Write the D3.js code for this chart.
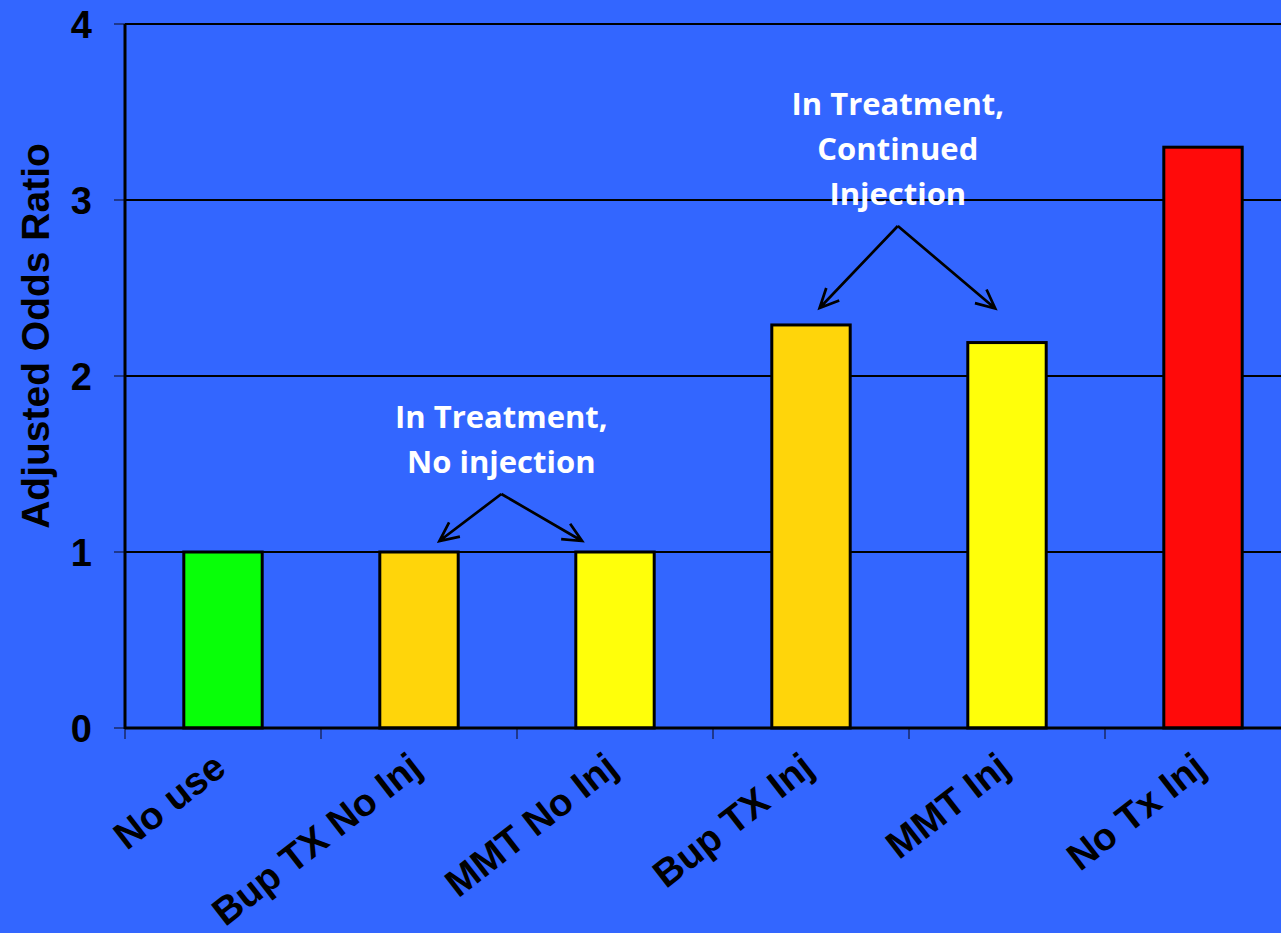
<!DOCTYPE html>
<html>
<head>
<meta charset="utf-8">
<script src="https://cdn.jsdelivr.net/npm/d3@7"></script>
<style>
  html, body { margin: 0; padding: 0; background: #3366FF; overflow: hidden; }
  svg { display: block; }
</style>
</head>
<body>
<svg id="chart" width="1281" height="933"></svg>
<script>
// ---- data ----
const categories = ["No use", "Bup TX No Inj", "MMT No Inj", "Bup TX Inj", "MMT Inj", "No Tx Inj"];
const oddsRatios = [1.0, 1.0, 1.0, 2.29, 2.19, 3.3];
const barColors = ["#08FF08", "#FFD50A", "#FFFF0A", "#FFD50A", "#FFFF0A", "#FF0A0A"];
const yTicks = [0, 1, 2, 3, 4];
const yTitle = "Adjusted Odds Ratio";
const noteNoInj = ["In Treatment,", "No injection"];
const noteInj = ["In Treatment,", "Continued", "Injection"];

(function () {
// ---- layout ----
const W = 1281, H = 933;
const mLeft = 125, mRight = 1301, mTop = 24, mBottom = 728;
const svg = d3.select("#chart");
svg.append("rect").attr("width", W).attr("height", H).attr("fill", "#3366FF");

const x = d3.scaleBand().domain(categories).range([mLeft, mRight])
  .paddingInner(0.6).paddingOuter(0.3);
const y = d3.scaleLinear().domain([0, 4]).range([mBottom, mTop]);
const bw = x.bandwidth(), step = x.step();

const axisFont = "'Liberation Sans', Arial, sans-serif";

// gridlines
svg.append("g").selectAll("line").data(yTicks.filter(d => d > 0)).join("line")
  .attr("x1", mLeft).attr("x2", W)
  .attr("y1", d => y(d)).attr("y2", d => y(d))
  .attr("stroke", "#000").attr("stroke-width", 2);

// y tick marks
svg.append("g").selectAll("line").data(yTicks).join("line")
  .attr("x1", mLeft - 11).attr("x2", mLeft)
  .attr("y1", d => y(d)).attr("y2", d => y(d))
  .attr("stroke", "#1a2a66").attr("stroke-width", 1.5);

// y tick labels
svg.append("g").selectAll("text").data(yTicks).join("text")
  .attr("x", 92).attr("y", d => y(d))
  .attr("dy", "0.36em")
  .attr("text-anchor", "end")
  .attr("font-family", axisFont).attr("font-weight", "bold").attr("font-size", 38)
  .attr("fill", "#000")
  .text(d => d);

// y title
svg.append("text")
  .attr("transform", `translate(49, ${(mTop + mBottom) / 2 - 40}) rotate(-90)`)
  .attr("text-anchor", "middle")
  .attr("font-family", axisFont).attr("font-weight", "bold").attr("font-size", 39)
  .attr("fill", "#000")
  .text(yTitle);

// x tick marks at band boundaries
const bounds = d3.range(categories.length + 1).map(i => mLeft + i * step);
svg.append("g").selectAll("line").data(bounds).join("line")
  .attr("x1", d => d).attr("x2", d => d)
  .attr("y1", mBottom).attr("y2", mBottom + 11)
  .attr("stroke", "#1a2a66").attr("stroke-width", 1.5);

// bars
svg.append("g").selectAll("rect").data(categories).join("rect")
  .attr("x", d => x(d))
  .attr("y", (d, i) => y(oddsRatios[i]))
  .attr("width", bw)
  .attr("height", (d, i) => y(0) - y(oddsRatios[i]))
  .attr("fill", (d, i) => barColors[i])
  .attr("stroke", "#000").attr("stroke-width", 3);

// zero line and y axis line
svg.append("line").attr("x1", mLeft).attr("x2", W).attr("y1", y(0)).attr("y2", y(0))
  .attr("stroke", "#000").attr("stroke-width", 3);
svg.append("line").attr("x1", mLeft).attr("x2", mLeft).attr("y1", y(4)).attr("y2", y(0) + 1)
  .attr("stroke", "#000").attr("stroke-width", 3);

// x labels rotated
svg.append("g").selectAll("text").data(categories).join("text")
  .attr("transform", d => `translate(${x(d) + bw / 2 + 5}, ${mBottom + 44}) rotate(-38)`)
  .attr("text-anchor", "end")
  .attr("font-family", axisFont).attr("font-weight", "bold").attr("font-size", 38.5)
  .attr("fill", "#000")
  .text(d => d);

// annotations
const noteFont = "'Open Sans', 'Noto Sans', sans-serif";
function note(lines, cx, firstBaseline) {
  const t = svg.append("text")
    .attr("text-anchor", "middle")
    .attr("font-family", noteFont).attr("font-weight", 700).attr("font-size", 31)
    .attr("fill", "#fff");
  lines.forEach((l, i) => t.append("tspan").attr("x", cx).attr("y", firstBaseline + i * 45).text(l));
}
function arrow(x1, y1, x2, y2) {
  const ang = Math.atan2(y2 - y1, x2 - x1);
  const len = 21, spread = 0.44;
  const p = d3.path();
  p.moveTo(x1, y1); p.lineTo(x2, y2);
  p.moveTo(x2 - len * Math.cos(ang - spread), y2 - len * Math.sin(ang - spread));
  p.lineTo(x2, y2);
  p.lineTo(x2 - len * Math.cos(ang + spread), y2 - len * Math.sin(ang + spread));
  svg.append("path").attr("d", p.toString()).attr("fill", "none")
    .attr("stroke", "#000").attr("stroke-width", 2.7)
    .attr("stroke-linejoin", "miter").attr("stroke-linecap", "butt");
}

const cNo = x(categories[2]) - 0.38 * step;
note(noteNoInj, cNo, 428);
arrow(cNo, 494, x(categories[1]) + bw * 0.76, y(oddsRatios[1]) - 11);
arrow(cNo, 494, x(categories[2]) + bw * 0.08, y(oddsRatios[2]) - 11);

const cInj = x(categories[4]) - 0.357 * step;
note(noteInj, cInj, 115);
arrow(cInj, 226, x(categories[3]) + bw * 0.61, y(oddsRatios[3]) - 17);
arrow(cInj, 226, x(categories[4]) + bw * 0.35, y(oddsRatios[4]) - 34);
})();
</script>
</body>
</html>
